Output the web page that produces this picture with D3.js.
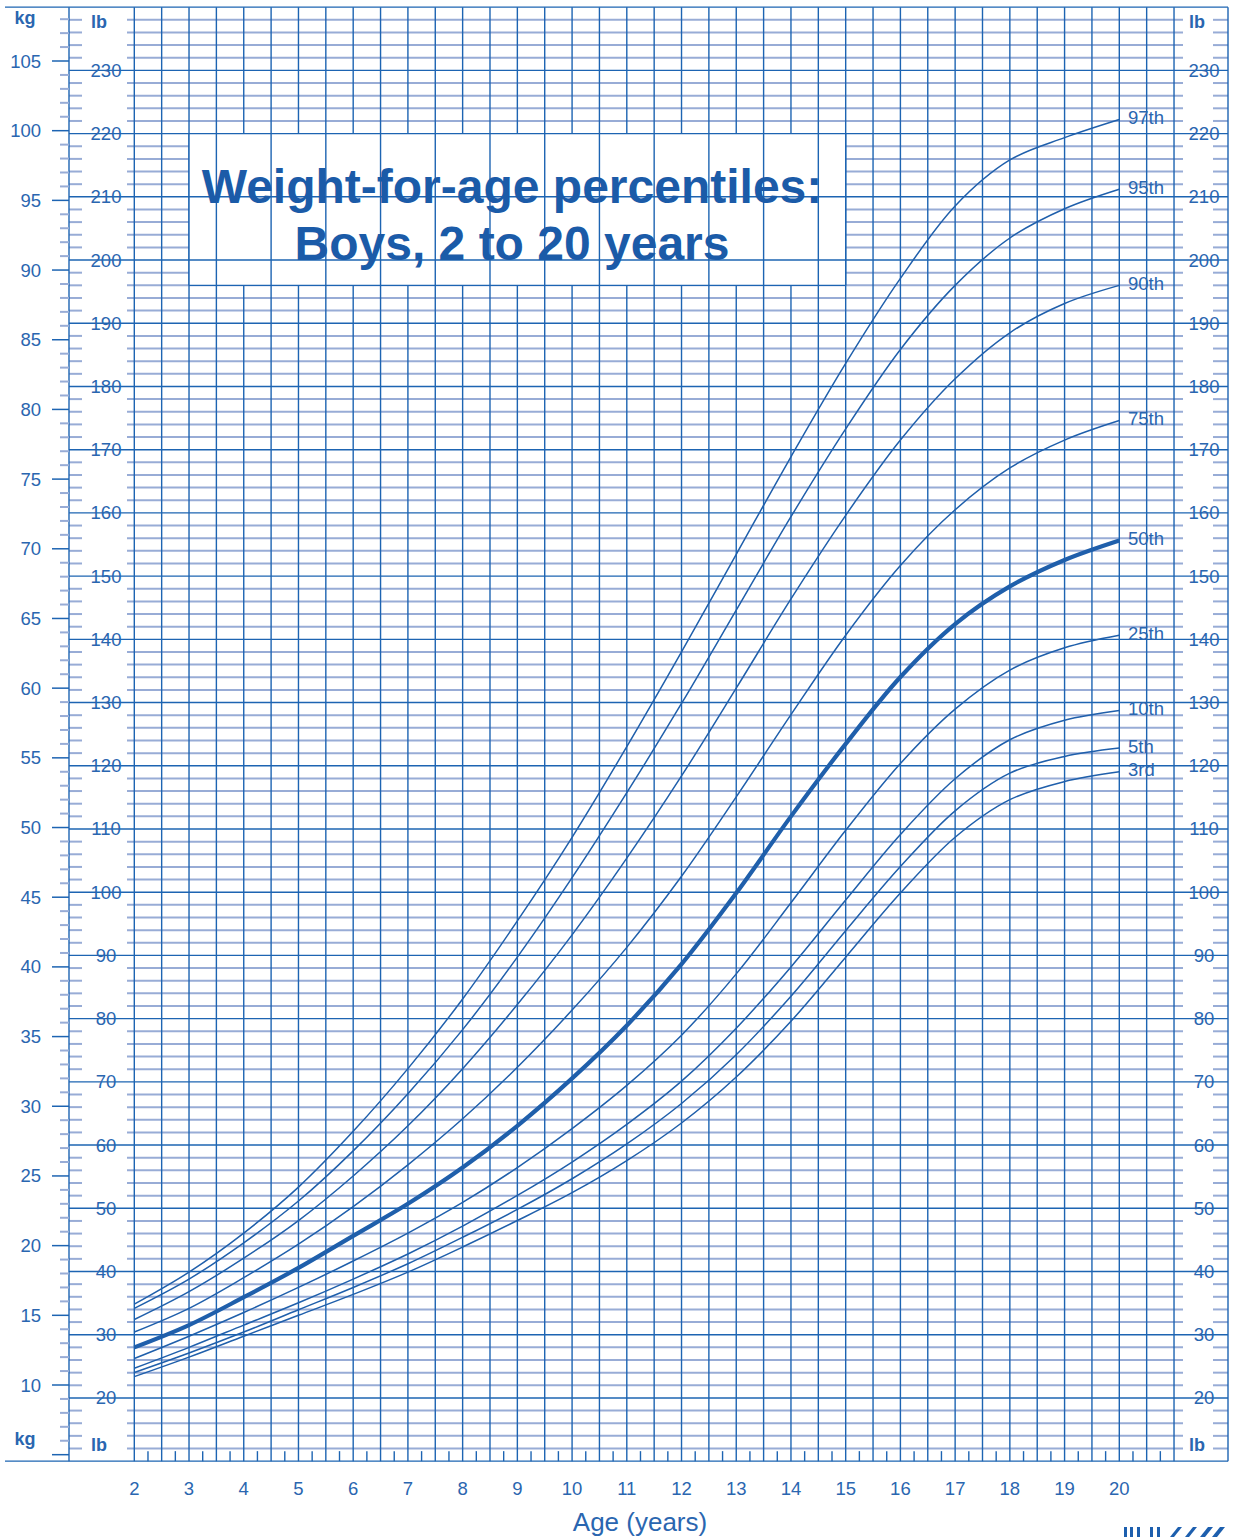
<!DOCTYPE html>
<html><head><meta charset="utf-8">
<script src="https://cdn.jsdelivr.net/npm/d3@7"></script>
<style>
body{margin:0;background:#fff;}
svg{display:block;font-family:"Liberation Sans",Arial,Helvetica,sans-serif;}
</style>
</head><body>
<svg id="c" width="1237" height="1537"></svg>
<script>
// ---------- DATA (kg) ----------
const ages = [2,3,4,5,6,7,8,9,10,11,12,13,14,15,16,17,18,19,20];
const p3  = [10.6,12.0,13.5,15.0,16.5,18.1,19.9,21.8,23.8,26.1,28.8,32.1,36.1,40.7,45.3,49.3,52.0,53.3,54.0];
const p5  = [10.9,12.3,13.8,15.4,17.0,18.7,20.6,22.6,24.8,27.3,30.2,33.7,37.9,42.6,47.2,51.2,53.9,55.1,55.7];
const p10 = [11.2,12.7,14.3,15.9,17.6,19.4,21.4,23.6,26.0,28.7,31.8,35.6,40.0,44.8,49.5,53.5,56.3,57.7,58.4];
const p25 = [11.9,13.5,15.2,17.0,18.9,20.9,23.1,25.6,28.4,31.5,35.1,39.5,44.6,49.8,54.6,58.5,61.3,62.9,63.8];
const p50 = [12.7,14.3,16.3,18.4,20.7,23.0,25.6,28.6,32.0,35.8,40.2,45.3,50.8,56.0,60.8,64.6,67.3,69.2,70.6];
const p75 = [13.8,15.5,17.7,20.1,22.8,25.8,29.1,32.8,36.9,41.4,46.5,52.2,58.1,63.8,68.8,72.8,75.8,77.8,79.2];
const p90 = [14.7,16.7,19.1,21.8,25.0,28.6,32.7,37.3,42.3,47.8,53.7,60.0,66.4,72.4,77.8,82.2,85.5,87.6,88.9];
const p95 = [15.5,17.6,20.2,23.2,26.8,30.9,35.5,40.7,46.4,52.5,58.9,65.6,72.3,78.6,84.3,88.9,92.3,94.4,95.8];
const p97 = [15.8,18.1,20.9,24.2,28.2,32.7,37.7,43.3,49.3,55.8,62.6,69.6,76.6,83.3,89.4,94.6,97.9,99.5,100.8];
const seriesNames = ["3rd","5th","10th","25th","50th","75th","90th","95th","97th"];
const seriesValues = [p3,p5,p10,p25,p50,p75,p90,p95,p97];
const ageTickLabels = [2,3,4,5,6,7,8,9,10,11,12,13,14,15,16,17,18,19,20];
const kgTickLabels = [10,15,20,25,30,35,40,45,50,55,60,65,70,75,80,85,90,95,100,105];
const lbTickLabels = [20,30,40,50,60,70,80,90,100,110,120,130,140,150,160,170,180,190,200,210,220,230];
const titleLines = ["Weight-for-age percentiles:","Boys, 2 to 20 years"];
const xTitle = "Age (years)";

// ---------- SCALES ----------
const LB = 0.45359237;
const x = d3.scaleLinear().domain([2,20]).range([134.3,1119.3]);
const y = d3.scaleLinear().domain([10,105]).range([1385,61]);
const yl = lb => y(lb*LB);

const DARK = "#1d64b2";
const LIGHT = "#98acd6";
const TXT = "#2a66b0";

const svg = d3.select("#c");
const g = svg.append("g");

const topY = yl(240), botY = yl(10);
const leftX = 69, rightX = 1228;

// light lb grid lines every 2 lb
const lightLbs = d3.range(12, 240, 2).filter(v => v % 10 !== 0);
const lightG = g.append("g").attr("stroke", LIGHT).attr("stroke-width", 2);
lightLbs.forEach(v => {
  const yy = yl(v);
  [[leftX, 82],[127, 1183],[1213, rightX]].forEach(s => {
    lightG.append("line").attr("x1", s[0]).attr("x2", s[1]).attr("y1", yy).attr("y2", yy);
  });
});

// full-year verticals
const vG = g.append("g").attr("stroke", DARK).attr("stroke-width", 1.4);
d3.range(2, 22, 1).forEach(a => {
  vG.append("line").attr("x1", x(a)).attr("x2", x(a)).attr("y1", topY).attr("y2", botY);
});

// title box (white)
g.append("rect").attr("x", x(3)).attr("y", yl(220)).attr("width", x(15)-x(3)).attr("height", yl(196)-yl(220)).attr("fill", "#fff");
g.append("line").attr("x1", x(3)).attr("x2", x(15)).attr("y1", yl(196)).attr("y2", yl(196)).attr("stroke", DARK).attr("stroke-width", 1.3);
g.append("line").attr("x1", x(3)).attr("x2", x(3)).attr("y1", yl(220)).attr("y2", yl(196)).attr("stroke", DARK).attr("stroke-width", 1.4);
g.append("line").attr("x1", x(15)).attr("x2", x(15)).attr("y1", yl(220)).attr("y2", yl(196)).attr("stroke", DARK).attr("stroke-width", 1.4);

// half-year verticals
const hG = g.append("g").attr("stroke", DARK).attr("stroke-width", 1.4);
d3.range(2.5, 21, 1).forEach(a => {
  hG.append("line").attr("x1", x(a)).attr("x2", x(a)).attr("y1", topY).attr("y2", botY);
});

// dark 10-lb lines
const dG = g.append("g").attr("stroke", DARK).attr("stroke-width", 1.4);
lbTickLabels.forEach(v => {
  dG.append("line").attr("x1", leftX).attr("x2", rightX).attr("y1", yl(v)).attr("y2", yl(v));
});
// frame
dG.append("line").attr("x1", 5).attr("x2", rightX).attr("y1", topY).attr("y2", topY);
dG.append("line").attr("x1", 5).attr("x2", rightX).attr("y1", botY).attr("y2", botY);
dG.append("line").attr("x1", leftX).attr("x2", leftX).attr("y1", topY).attr("y2", botY);
dG.append("line").attr("x1", rightX).attr("x2", rightX).attr("y1", topY).attr("y2", botY);

// kg ticks
d3.range(5, 109, 1).forEach(k => {
  const major = k % 5 === 0;
  g.append("line").attr("x1", major ? 52 : 60).attr("x2", leftX)
    .attr("y1", y(k)).attr("y2", y(k))
    .attr("stroke", major ? DARK : LIGHT).attr("stroke-width", major ? 1.5 : 2);
});

// quarter-year bottom ticks
d3.range(2.25, 21, 0.5).forEach(a => {
  g.append("line").attr("x1", x(a)).attr("x2", x(a)).attr("y1", botY-10).attr("y2", botY)
    .attr("stroke", DARK).attr("stroke-width", 1.4);
});

// ---------- CURVES ----------
const line = d3.line().x(d => x(d[0])).y(d => y(d[1])).curve(d3.curveCatmullRom.alpha(0.5));
const cG = g.append("g").attr("fill", "none").attr("stroke", "#1f5fab").attr("stroke-linejoin", "round");
seriesValues.forEach((vals, i) => {
  cG.append("path")
    .attr("d", line(ages.map((a, j) => [a, vals[j]])))
    .attr("stroke-width", seriesNames[i] === "50th" ? 4.2 : 1.5);
});

// ---------- TEXT ----------
const tG = g.append("g").attr("fill", TXT).attr("font-size", 18.5);
seriesValues.forEach((vals, i) => {
  tG.append("text").attr("x", 1128).attr("y", y(vals[vals.length-1]) - 2)
    .attr("dominant-baseline", "central").text(seriesNames[i]);
});
kgTickLabels.forEach(k => {
  tG.append("text").attr("x", 41).attr("y", y(k)).attr("text-anchor", "end")
    .attr("dominant-baseline", "central").text(k);
});
lbTickLabels.forEach(v => {
  tG.append("text").attr("x", 106).attr("y", yl(v)).attr("text-anchor", "middle")
    .attr("dominant-baseline", "central").text(v);
  tG.append("text").attr("x", 1204).attr("y", yl(v)).attr("text-anchor", "middle")
    .attr("dominant-baseline", "central").text(v);
});
[[25, y(108.1), "kg"], [25, y(6.1), "kg"], [99, yl(237.6), "lb"], [99, yl(12.6), "lb"], [1197, yl(237.6), "lb"], [1197, yl(12.6), "lb"]].forEach(d => {
  tG.append("text").attr("x", d[0]).attr("y", d[1]).attr("text-anchor", "middle")
    .attr("dominant-baseline", "central").attr("font-weight", "bold").attr("font-size", 18).text(d[2]);
});
ageTickLabels.forEach(a => {
  tG.append("text").attr("x", x(a)).attr("y", 1488).attr("text-anchor", "middle")
    .attr("dominant-baseline", "central").attr("font-size", 18.5).text(a);
});
tG.append("text").attr("x", 640).attr("y", 1522).attr("text-anchor", "middle")
  .attr("dominant-baseline", "central").attr("font-size", 26).text(xTitle);

// title
titleLines.forEach((t, i) => {
  g.append("text").attr("x", 512).attr("y", 203 + i*57).attr("text-anchor", "middle")
    .attr("font-size", 48).attr("font-weight", "bold").attr("fill", "#1b5ba8").text(t);
});

// logo fragment bottom-right
const logo = g.append("g").attr("fill", "#1d5fae");
[[1124,3],[1130,3],[1137,3],[1150,3],[1157,3],[1170,4],[1185,4],[1200,5],[1212,5]].forEach((d,i) => {
  const x0 = d[0], w = d[1];
  const sk = i >= 5 ? 8 : 0;
  logo.append("path").attr("d", `M${x0+sk},1527 L${x0+sk+w},1527 L${x0+w},1537 L${x0},1537 Z`);
});
</script>
</body></html>
